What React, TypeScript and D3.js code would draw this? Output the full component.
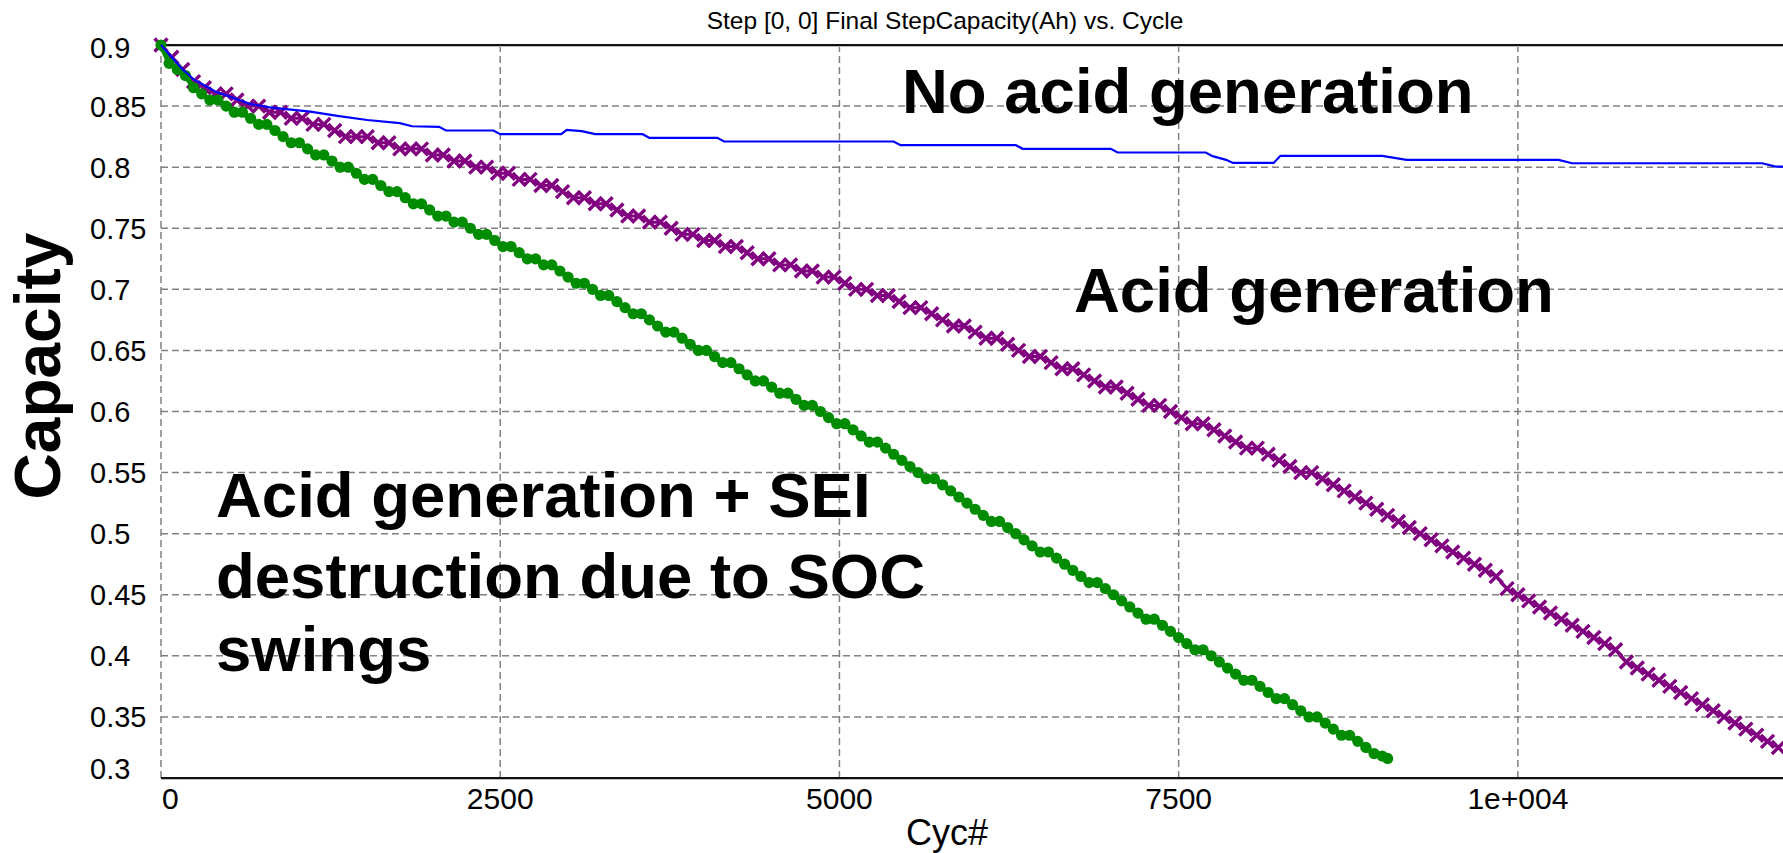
import React from 'react';
import * as d3 from 'd3';

const W = 1783;
const H = 853;

const TITLE = 'Step [0, 0] Final StepCapacity(Ah) vs. Cycle';
const X_LABEL = 'Cyc#';
const Y_LABEL = 'Capacity';

const xTicks = [0, 2500, 5000, 7500, 10000];
const xTickLabels = ['0', '2500', '5000', '7500', '1e+004'];
const yTicks = [0.3, 0.35, 0.4, 0.45, 0.5, 0.55, 0.6, 0.65, 0.7, 0.75, 0.8, 0.85, 0.9];
const yTickLabels = ['0.3', '0.35', '0.4', '0.45', '0.5', '0.55', '0.6', '0.65', '0.7', '0.75', '0.8', '0.85', '0.9'];

// Purple series (acid generation), one value every 80 cycles
const PURPLE_STEP = 80;
const purpleValues = [
  0.900, 0.890, 0.880, 0.870, 0.865, 0.860, 0.860, 0.855, 0.850, 0.850,
  0.845, 0.845, 0.840, 0.840, 0.835, 0.835, 0.830, 0.825, 0.825, 0.825,
  0.820, 0.820, 0.815, 0.815, 0.815, 0.810, 0.810, 0.805, 0.805, 0.800,
  0.800, 0.795, 0.795, 0.790, 0.790, 0.785, 0.785, 0.780, 0.775, 0.775,
  0.770, 0.770, 0.765, 0.760, 0.760, 0.755, 0.755, 0.750, 0.745, 0.745,
  0.740, 0.740, 0.735, 0.735, 0.730, 0.725, 0.725, 0.720, 0.720, 0.715,
  0.715, 0.710, 0.710, 0.705, 0.700, 0.700, 0.695, 0.695, 0.690, 0.685,
  0.685, 0.680, 0.675, 0.670, 0.670, 0.665, 0.660, 0.660, 0.655, 0.650,
  0.645, 0.645, 0.640, 0.635, 0.635, 0.630, 0.625, 0.620, 0.620, 0.615,
  0.610, 0.605, 0.605, 0.600, 0.595, 0.590, 0.590, 0.585, 0.580, 0.575,
  0.570, 0.570, 0.565, 0.560, 0.555, 0.550, 0.550, 0.545, 0.540, 0.535,
  0.530, 0.525, 0.520, 0.515, 0.510, 0.505, 0.500, 0.495, 0.490, 0.485,
  0.480, 0.475, 0.470, 0.465, 0.455, 0.450, 0.445, 0.440, 0.435, 0.430,
  0.425, 0.420, 0.415, 0.410, 0.405, 0.395, 0.390, 0.385, 0.380, 0.375,
  0.370, 0.365, 0.360, 0.355, 0.350, 0.345, 0.340, 0.335, 0.330, 0.325,
];

// Green series (acid generation + SEI destruction), one value every 60 cycles, then last point
const GREEN_STEP = 60;
const greenValues = [
  0.900, 0.885, 0.880, 0.875, 0.865, 0.860, 0.855, 0.855, 0.850, 0.845,
  0.845, 0.840, 0.835, 0.835, 0.830, 0.825, 0.820, 0.820, 0.815, 0.810,
  0.810, 0.805, 0.800, 0.800, 0.795, 0.790, 0.790, 0.785, 0.780, 0.780,
  0.775, 0.770, 0.770, 0.765, 0.760, 0.760, 0.755, 0.755, 0.750, 0.745,
  0.745, 0.740, 0.735, 0.735, 0.730, 0.725, 0.725, 0.720, 0.720, 0.715,
  0.710, 0.705, 0.705, 0.700, 0.695, 0.695, 0.690, 0.685, 0.680, 0.680,
  0.675, 0.670, 0.665, 0.665, 0.660, 0.655, 0.650, 0.650, 0.645, 0.640,
  0.640, 0.635, 0.630, 0.625, 0.625, 0.620, 0.615, 0.615, 0.610, 0.605,
  0.605, 0.600, 0.595, 0.590, 0.590, 0.585, 0.580, 0.575, 0.575, 0.570,
  0.565, 0.560, 0.555, 0.550, 0.545, 0.545, 0.540, 0.535, 0.530, 0.525,
  0.520, 0.515, 0.510, 0.510, 0.505, 0.500, 0.495, 0.490, 0.485, 0.485,
  0.480, 0.475, 0.470, 0.465, 0.460, 0.460, 0.455, 0.450, 0.445, 0.440,
  0.435, 0.430, 0.430, 0.425, 0.420, 0.415, 0.410, 0.405, 0.405, 0.400,
  0.395, 0.390, 0.385, 0.380, 0.380, 0.375, 0.370, 0.365, 0.365, 0.360,
  0.355, 0.350, 0.350, 0.345, 0.340, 0.335, 0.335, 0.330, 0.325, 0.320,
  0.318,
];
const greenLastCycle = 9040;
const greenLastValue = 0.316;

// Blue series (no acid generation): breakpoints of a stepped line
const blueCycles = [
  0, 80, 160, 240, 400, 650, 800, 1100, 1300, 1520, 1760, 1850, 2050, 2100, 2450, 2500, 2950, 2990, 3100, 3200,
  3550, 3600, 4100, 4150, 5400, 5450, 6300, 6350, 7000, 7050, 7700, 7750, 7850, 7900, 8200,
  8250, 9000, 9180, 10300, 10400, 11800, 11900, 11960,
];
const blueValues = [
  0.900, 0.890, 0.880, 0.872, 0.862, 0.852, 0.849, 0.8455, 0.842, 0.8386, 0.836, 0.8335, 0.833, 0.830, 0.830, 0.827, 0.827, 0.8305, 0.8295, 0.827,
  0.827, 0.824, 0.824, 0.821, 0.821, 0.818, 0.818, 0.815, 0.815, 0.812, 0.812, 0.809, 0.806, 0.8035, 0.8035,
  0.8093, 0.8093, 0.8059, 0.8059, 0.8032, 0.8032, 0.8005, 0.8005,
];

const FONT = '"Liberation Sans", Arial, Helvetica, sans-serif';

export default function App() {
  const left = 161;
  const right = W;
  const top = 45;
  const bottom = 778;

  const x = d3.scaleLinear().domain([0, 11954]).range([left, right]);
  const y = d3.scaleLinear().domain([0.3, 0.9]).range([bottom, top]);

  const purple: [number, number][] = purpleValues.map((v, i) => [i * PURPLE_STEP, v]);
  const green: [number, number][] = greenValues.map((v, i) => [i * GREEN_STEP, v] as [number, number]);
  green.push([greenLastCycle, greenLastValue]);
  const blue: [number, number][] = blueCycles.map((c, i) => [c, blueValues[i]]);

  const line = d3
    .line<[number, number]>()
    .x((d) => x(d[0]))
    .y((d) => y(d[1]));

  const gridColor = '#808080';

  return (
    <svg
      width={W}
      height={H}
      style={{ position: 'fixed', left: 0, top: 0, background: '#fff' }}
      xmlns="http://www.w3.org/2000/svg"
    >
      <defs>
        <clipPath id="plotClip">
          <rect x={left - 8} y={top - 8} width={right - left + 8} height={bottom - top + 16} />
        </clipPath>
      </defs>
      <rect x={0} y={0} width={W} height={H} fill="#fff" />

      {/* title */}
      <text x={945} y={29} fontFamily={FONT} fontSize={24.5} textAnchor="middle" fill="#000">
        {TITLE}
      </text>

      {/* horizontal grid */}
      {yTicks
        .filter((t) => t > 0.3 && t < 0.9)
        .map((t) => (
          <line
            key={'gy' + t}
            x1={left}
            x2={right}
            y1={y(t)}
            y2={y(t)}
            stroke={gridColor}
            strokeWidth={1.5}
            strokeDasharray="7,4"
          />
        ))}
      {/* vertical grid */}
      {xTicks.map((t) => (
        <line
          key={'gx' + t}
          x1={x(t)}
          x2={x(t)}
          y1={top}
          y2={bottom}
          stroke={gridColor}
          strokeWidth={1.5}
          strokeDasharray="7,4"
        />
      ))}

      {/* frame top/bottom */}
      <line x1={left} x2={right} y1={top} y2={top} stroke="#111" strokeWidth={2} />
      <line x1={left} x2={right} y1={top + 1.5} y2={top + 1.5} stroke="#bbb" strokeWidth={1} />
      <line x1={left} x2={right} y1={bottom} y2={bottom} stroke="#111" strokeWidth={2} />
      <line x1={left} x2={right} y1={bottom + 1.5} y2={bottom + 1.5} stroke="#bbb" strokeWidth={1} />

      <g clipPath="url(#plotClip)">
        {/* purple */}
        <path d={line(purple) || ''} fill="none" stroke="#800080" strokeWidth={3} />
        {purple.map((d, i) => (
          <path
            key={'p' + i}
            transform={`translate(${x(d[0])},${y(d[1])})`}
            d="M-6.5,-6.5L6.5,6.5M6.5,-6.5L-6.5,6.5"
            stroke="#800080"
            strokeWidth={3.4}
            fill="none"
          />
        ))}
        {/* green */}
        <path d={line(green) || ''} fill="none" stroke="#008c00" strokeWidth={5} />
        {green.map((d, i) => (
          <circle key={'g' + i} cx={x(d[0])} cy={y(d[1])} r={5.6} fill="#008c00" />
        ))}
        {/* blue */}
        <path d={line(blue) || ''} fill="none" stroke="#0000ff" strokeWidth={2.2} />
      </g>

      {/* y tick labels */}
      {yTicks.map((t, i) => {
        let cy = y(t);
        if (i === 0) cy -= 9;
        if (i === yTicks.length - 1) cy += 3;
        return (
          <text
            key={'yl' + t}
            x={90}
            y={cy}
            dy="0.36em"
            fontFamily={FONT}
            fontSize={29}
            textAnchor="start"
            fill="#000"
          >
            {yTickLabels[i]}
          </text>
        );
      })}

      {/* x tick labels */}
      {xTicks.map((t, i) => (
        <text
          key={'xl' + t}
          x={i === 0 ? x(t) + 1 : x(t)}
          y={809}
          fontFamily={FONT}
          fontSize={30}
          textAnchor={i === 0 ? 'start' : 'middle'}
          fill="#000"
        >
          {xTickLabels[i]}
        </text>
      ))}

      {/* axis labels */}
      <text x={947} y={845} fontFamily={FONT} fontSize={36} textAnchor="middle" fill="#000">
        {X_LABEL}
      </text>
      <text
        transform="translate(60,366) rotate(-90)"
        fontFamily={FONT}
        fontSize={64}
        fontWeight="bold"
        textAnchor="middle"
        fill="#000"
      >
        {Y_LABEL}
      </text>

      {/* annotations */}
      <g fontFamily={FONT} fontSize={63.5} fontWeight="bold" fill="#000">
        <text x={902} y={113}>No acid generation</text>
        <text x={1074} y={312}>Acid generation</text>
        <text x={216} y={517}>Acid generation + SEI</text>
        <text x={216} y={598}>destruction due to SOC</text>
        <text x={216} y={671}>swings</text>
      </g>
    </svg>
  );
}
